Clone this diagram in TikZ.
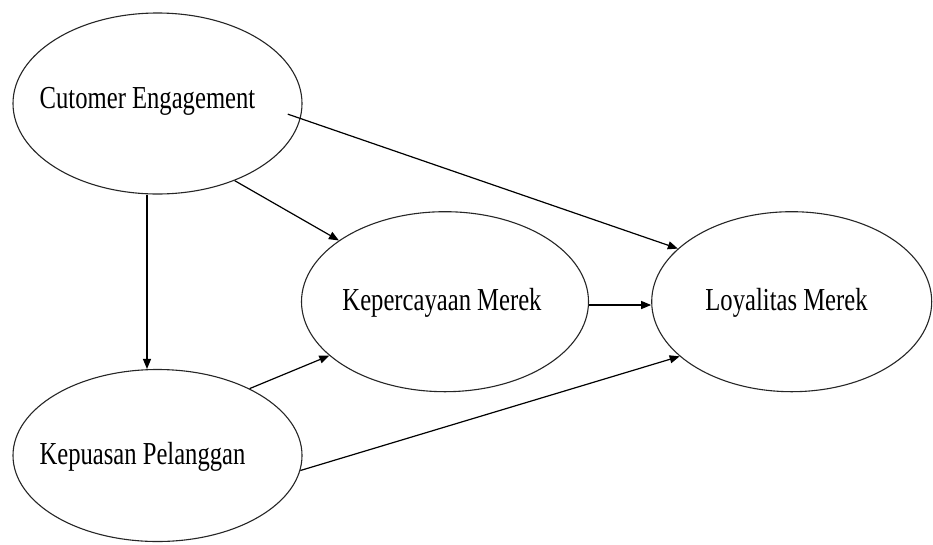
\documentclass[tikz,border=0pt]{standalone}
\usepackage{fontspec}
\newfontfamily\lblfont[FakeStretch=0.77]{Liberation Serif}
\usetikzlibrary{shapes.geometric,arrows.meta}
\begin{document}
\begin{tikzpicture}[x=1pt,y=-1pt,
  ell/.style={ellipse,draw=black!85,line width=1.1pt,inner sep=0pt,fill=white},
  lbl/.style={inner sep=0pt,anchor=base,font=\lblfont\fontsize{32}{38}\selectfont},
  arr/.style={line width=1.2pt,-{Triangle[length=10pt,width=8pt]}}]
\useasboundingbox[fill=white] (0,0) rectangle (933,544);
\node[ell,minimum width=289pt,minimum height=181pt] (ce) at (157.5,103.5) {};
\node[ell,minimum width=289pt,minimum height=172pt] (kp) at (157.5,455.5) {};
\node[ell,minimum width=287pt,minimum height=180pt] (km) at (445,301.7) {};
\node[ell,minimum width=280pt,minimum height=180pt] (lm) at (791.7,301.7) {};
\node[lbl] (tce) at (147.5,108) {Cutomer Engagement};
\node[lbl] (tkp) at (142.5,464) {Kepuasan Pelanggan};
\node[lbl] (tkm) at (442,310) {Kepercayaan Merek};
\node[lbl] (tlm) at (786.5,310) {Loyalitas Merek};
\draw[arr] ([xshift=-10.5pt]ce.south) -- ([xshift=-10.5pt]kp.north);
\draw[arr] (ce.-45) -- (km.150);
\draw[arr,shorten <=-13.5pt] (ce.-6) -- (lm.155);
\draw[arr] ([yshift=-3.3pt]km.east) -- ([yshift=-3.3pt]lm.west);
\draw[arr] (kp.36.7) -- (km.205.4);
\draw[arr] (kp.-6.6) -- (lm.206.2);
\end{tikzpicture}
\end{document}
